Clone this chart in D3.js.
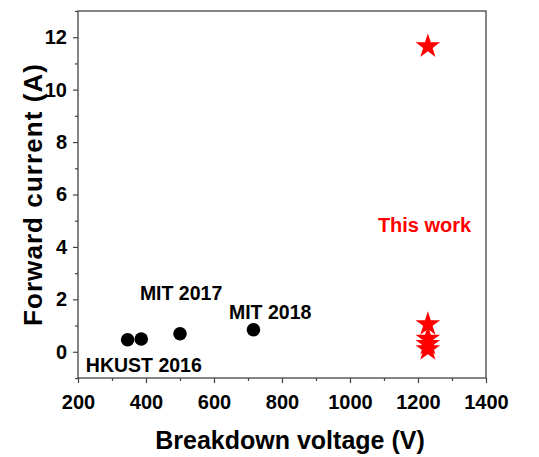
<!DOCTYPE html>
<html>
<head>
<meta charset="utf-8">
<script src="https://cdn.jsdelivr.net/npm/d3@7"></script>
<style>
  body { margin: 0; background: #fff; }
  text { font-family: "Liberation Sans", Arial, sans-serif; font-weight: bold; }
</style>
</head>
<body>
<svg id="chart" width="539" height="457"></svg>
<script>
// reported devices (black dots)
var refVoltage = [346, 386, 500, 716];
var refCurrent = [0.46, 0.49, 0.69, 0.84];
// this work (red stars)
var ourVoltage = [1229, 1229, 1229, 1229, 1229];
var ourCurrent = [11.65, 1.05, 0.5, 0.3, 0.1];

// label anchors (left edge / baseline, in data units)
var labels = [
  {text: "MIT 2017", x: 382, y: 1.99},
  {text: "MIT 2018", x: 644, y: 1.26},
  {text: "HKUST 2016", x: 223, y: -0.79}
];
var workLabel = {text: "This work", x: 1082, y: 4.58};

var xTicks = [200, 400, 600, 800, 1000, 1200, 1400];
var yTicks = [0, 2, 4, 6, 8, 10, 12];
var xMinor = [300, 500, 700, 900, 1100, 1300];
var yMinor = [-1, 1, 3, 5, 7, 9, 11, 13];

var svg = d3.select("#chart"),
    margin = {top: 11, right: 53, bottom: 79, left: 78},
    width = +svg.attr("width") - margin.left - margin.right,
    height = +svg.attr("height") - margin.top - margin.bottom;

var x = d3.scaleLinear().domain([200, 1400]).range([0, width]);
var y = d3.scaleLinear().domain([-1, 13]).range([height, 0]);

var g = svg.append("g")
    .attr("transform", "translate(" + margin.left + "," + margin.top + ")");

function styleAxis(a) {
  a.select(".domain").remove();
  a.selectAll("line").attr("stroke", "#444").attr("stroke-width", 1.2);
  a.selectAll("text").attr("font-size", 20).attr("fill", "#000")
      .style("font-family", "Liberation Sans, Arial, sans-serif").style("font-weight", "bold");
}

// minor ticks
g.append("g")
    .attr("transform", "translate(0," + height + ")")
    .call(d3.axisBottom(x).tickValues(xMinor).tickSize(3).tickFormat(""))
    .call(styleAxis);

g.append("g")
    .call(d3.axisLeft(y).tickValues(yMinor).tickSize(3).tickFormat(""))
    .call(styleAxis);

// major ticks
g.append("g")
    .attr("transform", "translate(0," + height + ")")
    .call(d3.axisBottom(x).tickValues(xTicks).tickSize(5).tickPadding(12).tickFormat(d3.format("d")))
    .call(styleAxis);

g.append("g")
    .call(d3.axisLeft(y).tickValues(yTicks).tickSize(5).tickPadding(6).tickFormat(d3.format("d")))
    .call(styleAxis);

// frame
g.append("rect")
    .attr("width", width).attr("height", height)
    .attr("fill", "none").attr("stroke", "#444").attr("stroke-width", 1.3);

// axis titles
svg.append("text")
    .attr("x", 290).attr("y", 449)
    .attr("text-anchor", "middle").attr("font-size", 25)
    .text("Breakdown voltage (V)");

svg.append("text")
    .attr("transform", "translate(42,195) rotate(-90)")
    .attr("text-anchor", "middle").attr("font-size", 26)
    .attr("textLength", 262).attr("lengthAdjust", "spacing")
    .text("Forward current (A)");

// reference points
g.selectAll("circle.ref")
    .data(refVoltage)
    .enter().append("circle")
    .attr("class", "ref")
    .attr("cx", function(d) { return x(d); })
    .attr("cy", function(d, i) { return y(refCurrent[i]); })
    .attr("r", 6.8)
    .attr("fill", "#000");

// this work stars
g.selectAll("path.star")
    .data(ourCurrent)
    .enter().append("path")
    .attr("class", "star")
    .attr("transform", function(d, i) { return "translate(" + x(ourVoltage[i]) + "," + y(d) + ")"; })
    .attr("d", d3.symbol().type(d3.symbolStar).size(190))
    .attr("fill", "#ff0000");

g.selectAll("text.lbl")
    .data(labels)
    .enter().append("text")
    .attr("class", "lbl")
    .attr("x", function(d) { return x(d.x); })
    .attr("y", function(d) { return y(d.y); })
    .attr("font-size", 19.5)
    .text(function(d) { return d.text; });

g.append("text")
    .attr("x", x(workLabel.x)).attr("y", y(workLabel.y))
    .attr("font-size", 20)
    .attr("fill", "#ff0000")
    .text(workLabel.text);
</script>
</body>
</html>
